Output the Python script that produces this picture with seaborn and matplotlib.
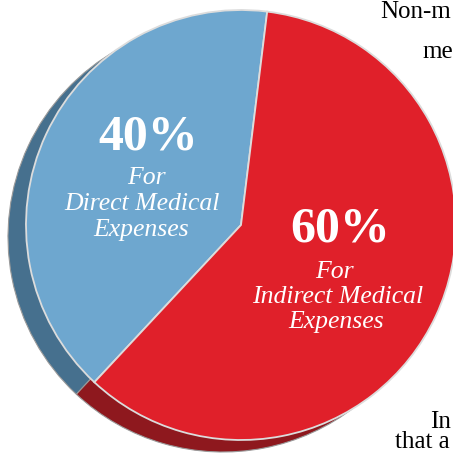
import matplotlib
matplotlib.use("Agg")
import matplotlib.pyplot as plt
import seaborn as sns

# data
categories = ["Direct Medical Expenses", "Indirect Medical Expenses"]
shares = [40, 60]
pct_labels = ["40%", "60%"]
face_colors = ["#6ea7cf", "#e0202a"]
side_colors = ["#46708e", "#8e181e"]

W, H = 453, 455

sns.set_theme(style="white")
plt.rcParams["font.family"] = ["Liberation Serif", "DejaVu Serif"]


def py(y):
    """Convert a pixel row (from top) to axes data y."""
    return H - y


fig = plt.figure(figsize=(W / 100, H / 100), dpi=100)
ax = fig.add_axes([0, 0, 1, 1])

cx, cy, r = 241, py(225), 215
depth_x, depth_y = -18, -12

# extruded side of the pie, drawn first as an offset darker pie
ax.pie(
    shares,
    colors=side_colors,
    startangle=83,
    center=(cx + depth_x, cy + depth_y),
    radius=r,
    wedgeprops=dict(edgecolor="#9a9a9a", linewidth=0.8),
)
# top face
ax.pie(
    shares,
    colors=face_colors,
    startangle=83,
    center=(cx, cy),
    radius=r,
    wedgeprops=dict(edgecolor="#dcdcdc", linewidth=1.3),
)

# labels on the slices
ax.text(148, py(137), pct_labels[0], color="white", fontsize=36, fontweight="bold",
        ha="center", va="center")
for txt, x, y in [("For", 146, 178), ("Direct Medical", 142, 204), ("Expenses", 141, 230)]:
    ax.text(x, py(y), txt, color="white", fontsize=18.5, style="italic",
            ha="center", va="center")

ax.text(340, py(230), pct_labels[1], color="white", fontsize=36, fontweight="bold",
        ha="center", va="center")
for txt, x, y in [("For", 334, 272), ("Indirect Medical", 338, 297), ("Expenses", 336, 322)]:
    ax.text(x, py(y), txt, color="white", fontsize=18.5, style="italic",
            ha="center", va="center")

# fragments of the surrounding page text
ax.text(380, py(18), "Non-m", color="black", fontsize=18, ha="left", va="baseline")
ax.text(422, py(58), "me", color="black", fontsize=18, ha="left", va="baseline")
ax.text(430, py(428), "In", color="black", fontsize=18, ha="left", va="baseline")
ax.text(395, py(448), "that a", color="black", fontsize=18, ha="left", va="baseline")

ax.set_xlim(0, W)
ax.set_ylim(0, H)
ax.set_aspect("equal")
ax.axis("off")

fig.savefig("out.png", dpi=100)
plt.close(fig)
